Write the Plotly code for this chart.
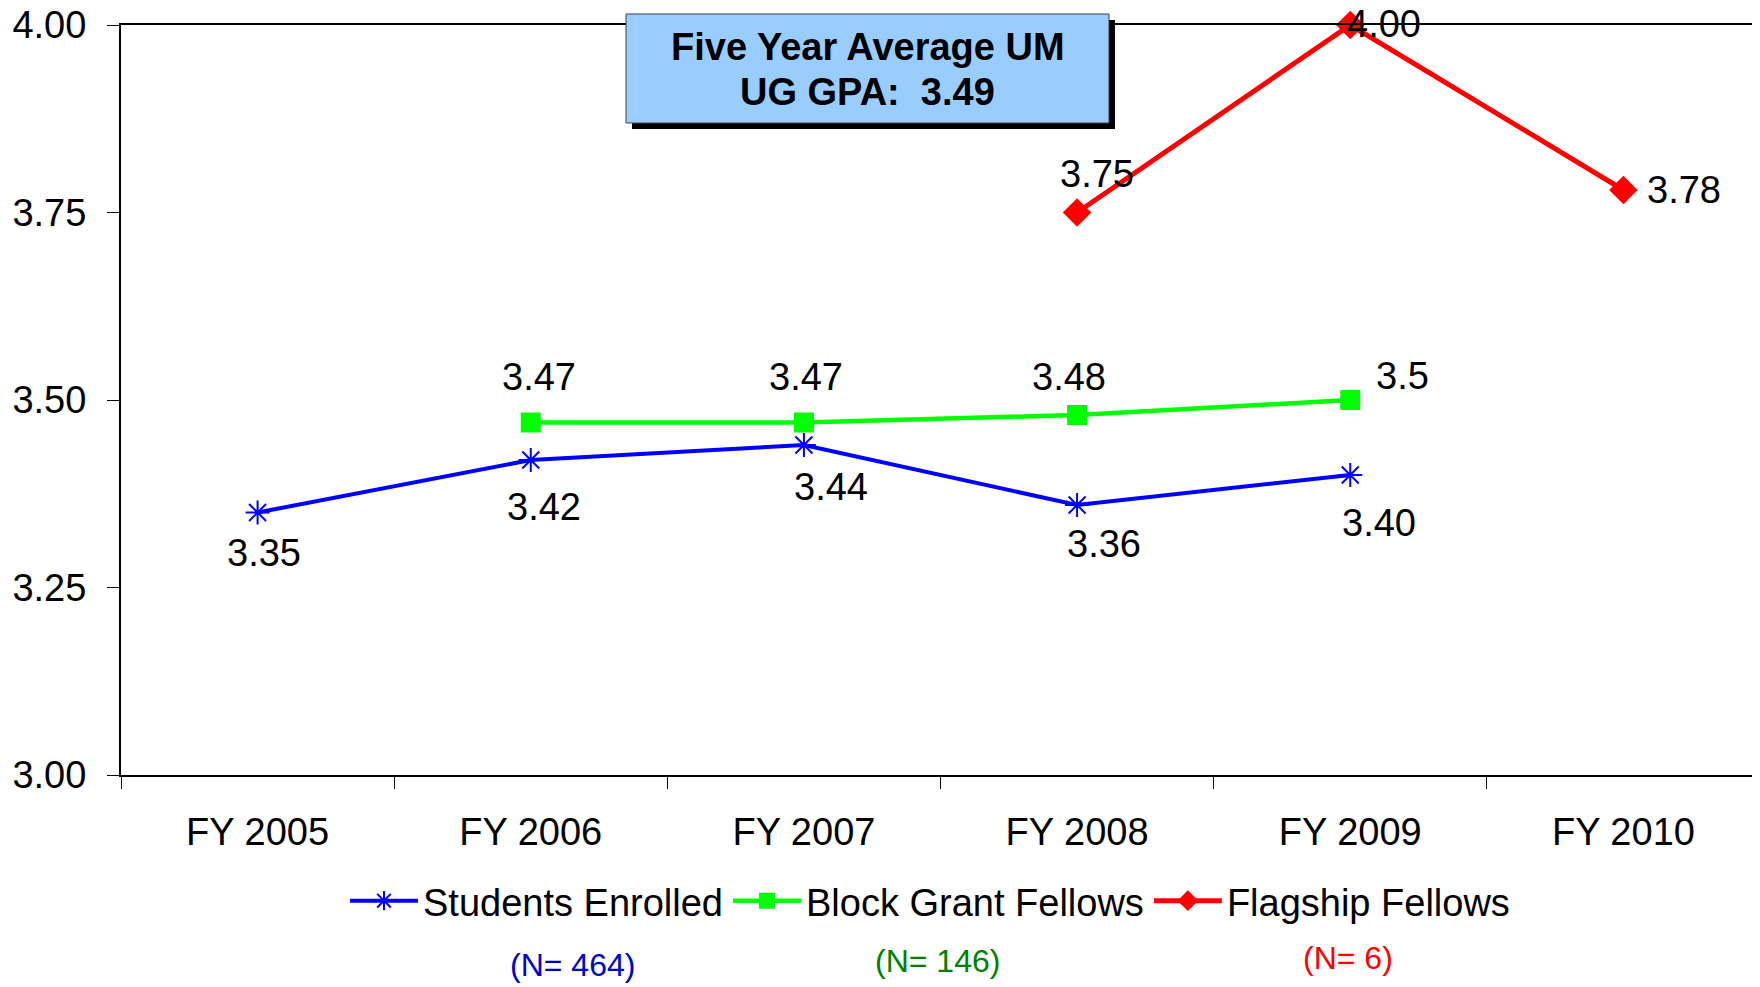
import plotly.graph_objects as go

categories = ["FY 2005", "FY 2006", "FY 2007", "FY 2008", "FY 2009", "FY 2010"]

enrolled_x = ["FY 2005", "FY 2006", "FY 2007", "FY 2008", "FY 2009"]
enrolled_y = [3.35, 3.42, 3.44, 3.36, 3.40]

block_x = ["FY 2006", "FY 2007", "FY 2008", "FY 2009"]
block_y = [3.47, 3.47, 3.48, 3.50]
block_labels = ["3.47", "3.47", "3.48", "3.5"]

flag_x = ["FY 2008", "FY 2009", "FY 2010"]
flag_y = [3.75, 4.00, 3.78]

y_ticks = [3.00, 3.25, 3.50, 3.75, 4.00]

box_lines = ["<b>Five Year Average UM</b>", "<b>UG GPA:  3.49</b>"]
n_labels = ["(N= 464)", "(N= 146)", "(N= 6)"]
n_colors = ["#0000CC", "#008000", "#FF0000"]

FONT = "Liberation Sans, Arial, sans-serif"
OFF = 8  # default page body margin
W, H = 1760 - OFF, 987 - OFF
ML, MR, MT, MB = 113, 0, 17, 212
PW = W - ML - MR
PH = H - MT - MB


def px_to_paper(xp, yp):
    """page pixel -> paper coords"""
    return ((xp - OFF) - ML) / PW, (H - MB - (yp - OFF)) / PH


fig = go.Figure()

fig.add_trace(go.Scatter(
    x=enrolled_x, y=enrolled_y, name="Students Enrolled", mode="lines+markers",
    line=dict(color="#0000FF", width=4),
    marker=dict(symbol="asterisk-open", size=20, color="#0000FF",
                line=dict(color="#0000FF", width=2)),
    cliponaxis=False,
))
fig.add_trace(go.Scatter(
    x=block_x, y=block_y, name="Block Grant Fellows", mode="lines+markers",
    line=dict(color="#00FF00", width=4.5),
    marker=dict(symbol="square", size=20, color="#00FF00"),
    cliponaxis=False,
))
fig.add_trace(go.Scatter(
    x=flag_x, y=flag_y, name="Flagship Fellows", mode="lines+markers",
    line=dict(color="#FF0000", width=5),
    marker=dict(symbol="diamond", size=22, color="#FF0000"),
    cliponaxis=False,
))

annotations = []
label_font = dict(family=FONT, size=38, color="black")

enrolled_shifts = [(6, -40), (13, -47), (27, -42), (27, -39), (29, -48)]
for xv, yv, (dx, dy) in zip(enrolled_x, enrolled_y, enrolled_shifts):
    annotations.append(dict(x=xv, y=yv, xref="x", yref="y", text=f"{yv:.2f}",
                            showarrow=False, xshift=dx, yshift=dy, font=label_font))

block_shifts = [(8, 46), (2, 46), (-8, 38), (52, 24)]
for xv, yv, t, (dx, dy) in zip(block_x, block_y, block_labels, block_shifts):
    annotations.append(dict(x=xv, y=yv, xref="x", yref="y", text=t,
                            showarrow=False, xshift=dx, yshift=dy, font=label_font))

flag_shifts = [(20, 39), (34, 1), (61, 0)]
for xv, yv, (dx, dy) in zip(flag_x, flag_y, flag_shifts):
    annotations.append(dict(x=xv, y=yv, xref="x", yref="y", text=f"{yv:.2f}",
                            showarrow=False, xshift=dx, yshift=dy, font=label_font,
                            borderpad=0))

# Title box (page pixel extents)
bx0, by0, bx1, by1 = 626, 14, 1109, 123
line_y = [47, 92]
for t, ypix in zip(box_lines, line_y):
    tx, ty = px_to_paper((bx0 + bx1) / 2, ypix)
    annotations.append(dict(
        x=tx, y=ty, xref="paper", yref="paper", xanchor="center", yanchor="middle",
        text=t, showarrow=False, align="center", borderpad=0,
        font=dict(family=FONT, size=38, color="black"),
    ))

# N labels
n_pos = [(572, 965), (937, 961), (1348, 958)]
for t, c, (xp, yp) in zip(n_labels, n_colors, n_pos):
    px_, py_ = px_to_paper(xp, yp)
    annotations.append(dict(x=px_, y=py_, xref="paper", yref="paper",
                            xanchor="center", yanchor="middle", text=t, showarrow=False,
                            font=dict(family=FONT, size=32, color=c), borderpad=0))

sx0, sy0 = px_to_paper(bx0 + 6, by1 + 6)
sx1, sy1 = px_to_paper(bx1 + 6, by0 + 6)
rx0, ry0 = px_to_paper(bx0, by1)
rx1, ry1 = px_to_paper(bx1, by0)
shapes = [
    dict(type="rect", xref="paper", yref="paper", x0=sx0, y0=sy0, x1=sx1, y1=sy1,
         fillcolor="black", line=dict(width=0), layer="above"),
    dict(type="rect", xref="paper", yref="paper", x0=rx0, y0=ry0, x1=rx1, y1=ry1,
         fillcolor="#99CCFF", line=dict(width=1, color="#404040"), layer="above"),
]

lx, ly = px_to_paper(930, 901)

fig.update_layout(
    width=W, height=H,
    margin=dict(l=ML, r=MR, t=MT, b=MB, pad=0, autoexpand=False),
    paper_bgcolor="white", plot_bgcolor="white",
    font=dict(family=FONT, size=38, color="black"),
    showlegend=True,
    legend=dict(orientation="h", x=lx, y=ly, xanchor="center", yanchor="middle",
                font=dict(family=FONT, size=38, color="black"),
                itemwidth=68, tracegroupgap=0, bgcolor="rgba(0,0,0,0)"),
    annotations=annotations,
    shapes=shapes,
    xaxis=dict(type="category", categoryorder="array", categoryarray=categories,
               tickvals=categories, range=[-0.5, 5.5], automargin=False,
               showgrid=False, zeroline=False, showline=True, linecolor="black",
               linewidth=2, mirror=True, ticks="outside", ticklen=12, tickwidth=1,
               tickcolor="black", tickson="boundaries",
               tickfont=dict(family=FONT, size=38, color="black"),
               ticklabelstandoff=22, ticklabeloverflow="allow"),
    yaxis=dict(range=[3.0, 4.0], tickvals=y_ticks, ticktext=[f"{v:.2f}" for v in y_ticks],
               automargin=False,
               showgrid=False, zeroline=False, showline=True, linecolor="black",
               linewidth=2, ticks="outside", ticklen=12, tickwidth=1,
               tickcolor="black", tickfont=dict(family=FONT, size=38, color="black"),
               ticklabelstandoff=13, ticklabeloverflow="allow"),
)

fig.write_html("out.html")
